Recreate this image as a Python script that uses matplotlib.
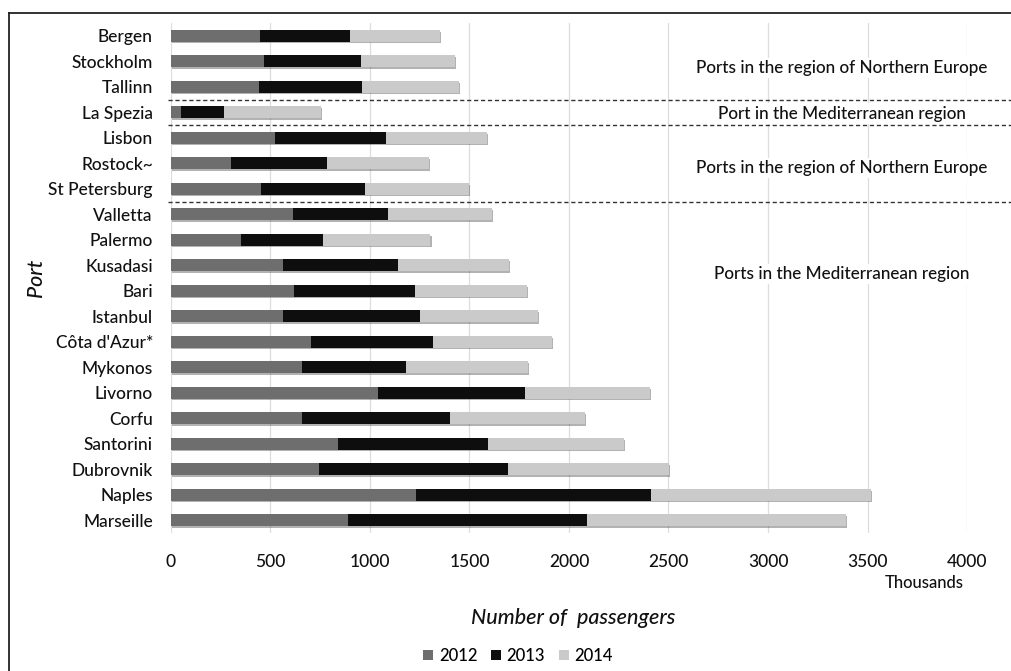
import matplotlib
matplotlib.use('Agg')
import matplotlib.pyplot as plt
import matplotlib.patheffects as pe
import numpy as np
from matplotlib.lines import Line2D

plt.rcParams['font.family'] = ['Lato', 'DejaVu Sans']
plt.rcParams['font.weight'] = 'medium'

# Passenger numbers in thousands
ports = ['Bergen', 'Stockholm', 'Tallinn', 'La Spezia', 'Lisbon', 'Rostock~',
         'St Petersburg', 'Valletta', 'Palermo', 'Kusadasi', 'Bari', 'Istanbul',
         "Côta d'Azur*", 'Mykonos', 'Livorno', 'Corfu', 'Santorini',
         'Dubrovnik', 'Naples', 'Marseille']
y2012 = [445, 467, 440, 48, 522, 301, 450, 611, 354, 561, 620, 565, 703, 658,
         1038, 656, 840, 744, 1229, 890]
y2013 = [457, 488, 520, 216, 559, 485, 527, 480, 412, 580, 606, 686, 614, 521,
         742, 748, 755, 948, 1183, 1199]
y2014 = [448, 473, 485, 488, 505, 511, 520, 522, 538, 558, 563, 592, 599, 613,
         627, 678, 683, 812, 1107, 1301]
years = ['2012', '2013', '2014']
colors = ['#6e6e6e', '#0e0e0e', '#cacaca']

# region boundaries sit between these row pairs
separators = [2.5, 3.5, 6.5]
regions = [('Ports in the region of Northern Europe', 1.25),
           ('Port in the Mediterranean region', 3.05),
           ('Ports in the region of Northern Europe', 5.2),
           ('Ports in the Mediterranean region', 9.35)]

fig = plt.figure(figsize=(10.11, 6.71), dpi=100)
ax = fig.add_axes([0.1691, 0.2057, 0.7874, 0.760])

pos = np.arange(len(ports))
left = np.zeros(len(ports))
shadow = [pe.SimplePatchShadow(offset=(0.8, -1.2), shadow_rgbFace='#555555', alpha=0.45),
          pe.Normal()]
for vals, name, c in zip([y2012, y2013, y2014], years, colors):
    vals = np.array(vals)
    bars = ax.barh(pos, vals, left=left, height=0.46, color=c, label=name,
                   zorder=3)
    for b in bars:
        b.set_path_effects(shadow)
    left += vals

ax.set_xlim(0, 4000)
ax.set_ylim(len(ports) - 0.5, -0.5)
ax.set_xticks(np.arange(0, 4001, 500))
ax.set_yticks(pos)
ax.set_yticklabels(ports)
ax.tick_params(axis='both', length=0, labelsize=12.5, colors='#111111')
ax.tick_params(axis='y', pad=13)
ax.tick_params(axis='x', pad=15)
ax.grid(axis='x', color='#dddddd', linewidth=0.9, zorder=0)
for s in ax.spines.values():
    s.set_visible(False)

for yv in separators:
    ax.plot([-0.004, 1.06], [yv, yv], transform=ax.get_yaxis_transform(),
            color='#333333', linestyle=(0, (3, 2)), linewidth=1.0,
            clip_on=False, zorder=4)

for txt, yv in regions:
    ax.text(0.843, yv, txt, transform=ax.get_yaxis_transform(), ha='center',
            va='center', fontsize=12.3, color='#111111', zorder=5,
            bbox=dict(facecolor='white', edgecolor='none', pad=1.5))

fig.text(924 / 1011, 1 - 583 / 671, 'Thousands', ha='center', va='center',
         fontsize=12, color='#111111')
fig.text(573 / 1011, 1 - 618 / 671, 'Number of  passengers', ha='center',
         va='center', fontsize=15.5, style='italic', color='#111111')
fig.text(36 / 1011, 1 - 278 / 671, 'Port', ha='center', va='center',
         rotation=90, fontsize=15.5, style='italic', color='#111111')

leg = fig.legend(loc='center', bbox_to_anchor=(518 / 1011, 1 - 656 / 671),
                 ncol=3, frameon=False, fontsize=12, handlelength=0.6,
                 handleheight=0.6, handletextpad=0.35, columnspacing=0.8)
for h in leg.legend_handles:
    h.set_path_effects([])

# outer frame of the original figure (only top and left are visible)
fig.add_artist(Line2D([9 / 1011, 9 / 1011], [0, 1 - 13 / 671],
                      transform=fig.transFigure, color='#222222', linewidth=1.3))
fig.add_artist(Line2D([9 / 1011, 1], [1 - 13 / 671, 1 - 13 / 671],
                      transform=fig.transFigure, color='#222222', linewidth=1.3))

fig.savefig('out.png', dpi=100)
